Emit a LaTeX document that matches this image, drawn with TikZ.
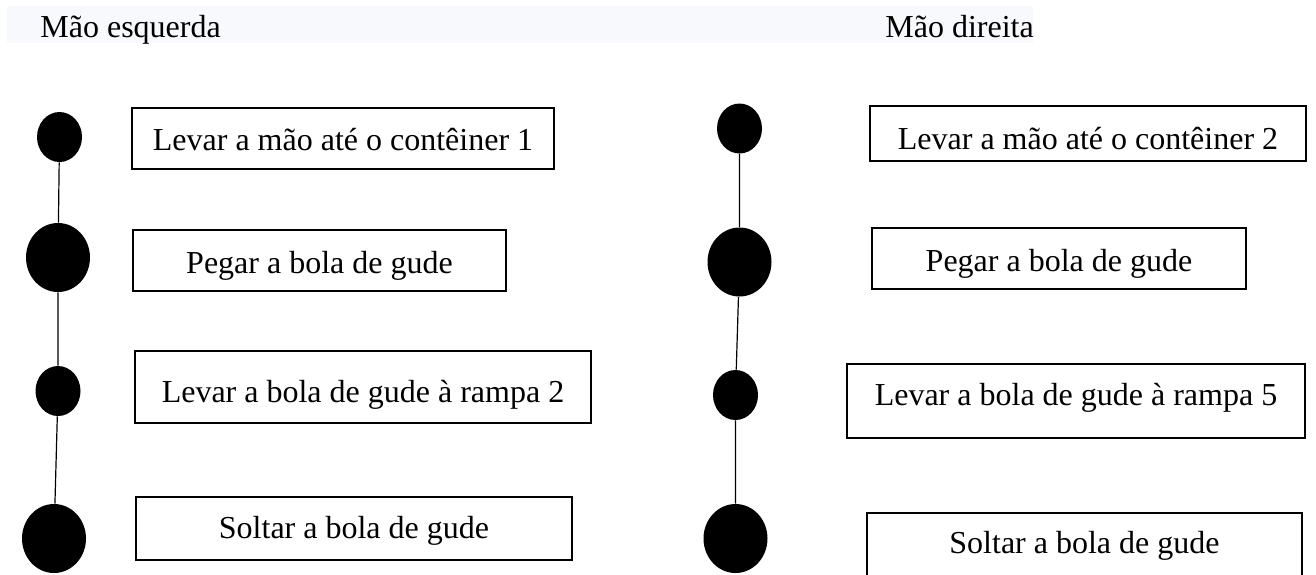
\documentclass[tikz,border=0pt]{standalone}
\usepackage{fontspec}
\setmainfont{Liberation Serif}
\usetikzlibrary{shapes.geometric}
\definecolor{faixa}{HTML}{F8F9FC}

\begin{document}
\begin{tikzpicture}[x=0.5pt, y=-0.5pt,
    font=\fontsize{16}{19}\selectfont,
    bolap/.style={ellipse, fill=black, inner sep=0pt, minimum width=22.5pt, minimum height=25pt},
    bolag/.style={ellipse, fill=black, inner sep=0pt, minimum width=32pt, minimum height=34.5pt},
    caixa/.style n args={3}{draw, line width=0.8pt, inner sep=0pt, anchor=base,
      minimum width=#1, text height=#2, text depth=#3},
    fio/.style={line width=0.6pt}]
      \useasboundingbox (0,0) rectangle (1316,574);
      \clip (0,0) rectangle (1316,574);

      \fill[faixa] (7,6) rectangle (1033,43);
      \node[anchor=base west, inner sep=0pt] (esq) at (40,37) {Mão esquerda};
      \node[anchor=base west, inner sep=0pt] (dir) at (885,37) {Mão direita};

      \node[bolap] (me1) at (59.5,137) {};
      \node[bolag] (me2) at (58,257.5) {};
      \node[bolap] (me3) at (58,391) {};
      \node[bolag] (me4) at (54,538.5) {};
      \draw[fio] (me1) -- (me2) -- (me3) -- (me4);

      \node[caixa={211pt}{21pt}{9.5pt}] (le1) at (343,150) {Levar a mão até o contêiner 1};
      \node[caixa={186.5pt}{21.5pt}{9pt}] (le2) at (319.5,273) {Pegar a bola de gude};
      \node[caixa={228pt}{25.5pt}{10.5pt}] (le3) at (363,402) {Levar a bola de gude à rampa 2};
      \node[caixa={218pt}{20.5pt}{11pt}] (le4) at (354,538) {Soltar a bola de gude};

      \node[bolap] (md1) at (739.5,128.5) {};
      \node[bolag] (md2) at (739.5,262) {};
      \node[bolap] (md3) at (735.5,395) {};
      \node[bolag] (md4) at (735.5,538.5) {};
      \draw[fio] (md1) -- (md2) -- (md3) -- (md4);

      \node[caixa={218pt}{21.5pt}{6pt}] (ld1) at (1088,149) {Levar a mão até o contêiner 2};
      \node[caixa={187pt}{21.5pt}{9pt}] (ld2) at (1059,271) {Pegar a bola de gude};
      \node[caixa={229pt}{20.5pt}{16.5pt}] (ld3) at (1076,405) {Levar a bola de gude à rampa 5};
      \node[caixa={217.5pt}{20pt}{15pt}] (ld4) at (1084.5,553) {Soltar a bola de gude};
\end{tikzpicture}
\end{document}
